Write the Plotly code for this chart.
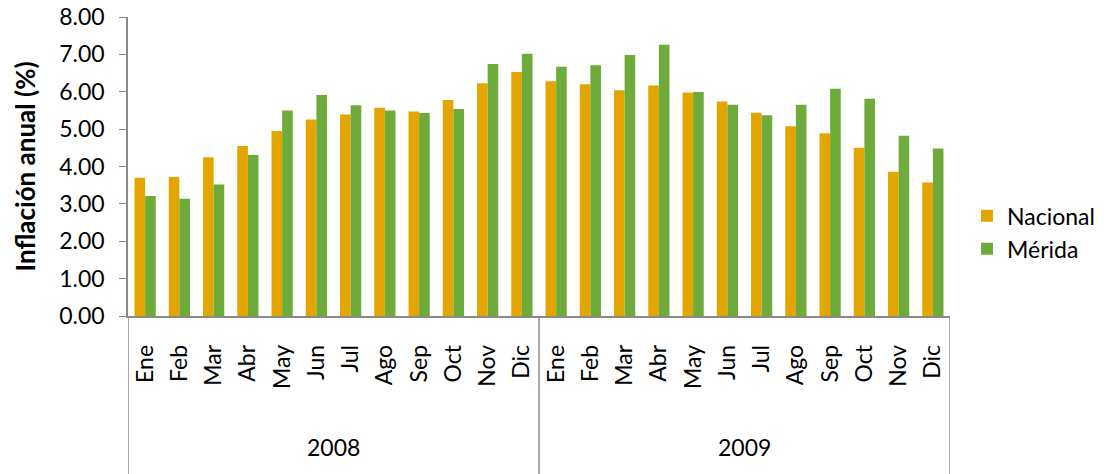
import plotly.graph_objects as go

years = ["2008", "2009"]
months = ["Ene", "Feb", "Mar", "Abr", "May", "Jun", "Jul", "Ago", "Sep", "Oct", "Nov", "Dic"]
categories = [f"{y}-{m}" for y in years for m in months]
tick_text = months * 2

nacional = [3.70, 3.72, 4.25, 4.55, 4.95, 5.26, 5.39, 5.57, 5.47, 5.78, 6.23, 6.53,
            6.28, 6.20, 6.04, 6.17, 5.98, 5.74, 5.44, 5.08, 4.89, 4.50, 3.86, 3.57]
merida = [3.21, 3.14, 3.52, 4.31, 5.50, 5.91, 5.64, 5.50, 5.43, 5.54, 6.74, 7.02,
          6.67, 6.71, 6.98, 7.26, 5.99, 5.65, 5.37, 5.65, 6.08, 5.81, 4.82, 4.48]

font = "Lato, 'Noto Sans', sans-serif"
grey = "#8a8a8a"

fig = go.Figure()
fig.add_trace(go.Bar(x=categories, y=nacional, name="Nacional",
                     marker=dict(color="#E3A600", line=dict(width=0))))
fig.add_trace(go.Bar(x=categories, y=merida, name="Mérida",
                     marker=dict(color="#6FAB3A", line=dict(width=0))))

# year group dividers and labels under the month ticks
n = len(months)
for i in range(len(years) + 1):
    fig.add_shape(type="line", xref="x", yref="paper", x0=i * n - 0.5, x1=i * n - 0.5,
                  y0=0, y1=-0.53, line=dict(color=grey, width=1.5))
for i, yr in enumerate(years):
    fig.add_annotation(text=yr, xref="x", yref="paper", x=i * n + (n - 1) / 2, y=-0.438,
                       showarrow=False, font=dict(size=23), yanchor="middle")

fig.add_annotation(text="<b>Inflación anual (%)</b>", xref="paper", yref="paper",
                   x=-0.1265, y=0.5, textangle=-90, showarrow=False,
                   font=dict(size=26), xanchor="center", yanchor="middle")

fig.update_layout(
    width=1104, height=474,
    margin=dict(l=128, r=154, t=17, b=158, autoexpand=False),
    paper_bgcolor="white", plot_bgcolor="white",
    barmode="group", bargap=0.38, bargroupgap=0,
    font=dict(family=font, size=23, color="black"),
    legend=dict(x=1.0207, y=0.28, yanchor="middle", xanchor="left",
                font=dict(size=23), tracegroupgap=0),
    showlegend=True,
)
fig.update_yaxes(range=[0, 8], dtick=1, tickformat=".2f", showgrid=False,
                 showline=True, linecolor=grey, linewidth=1.5,
                 ticks="outside", ticklen=7, tickcolor=grey,
                 ticklabelstandoff=10, ticklabeloverflow="allow", tickfont=dict(size=23),
                 zeroline=False, automargin=False)
fig.update_xaxes(type="category", tickvals=categories, ticktext=tick_text,
                 range=[-0.5, len(categories) - 0.5],
                 showline=True, linecolor=grey, linewidth=1.5,
                 tickangle=-90, tickfont=dict(size=23), showgrid=False,
                 ticks="", ticklabelstandoff=18, automargin=False)

# drop the browser's default body margin so the figure sits at the page corner
fig.write_html("out.html", config={"displayModeBar": False},
               post_script="document.body.style.margin = '0';")
